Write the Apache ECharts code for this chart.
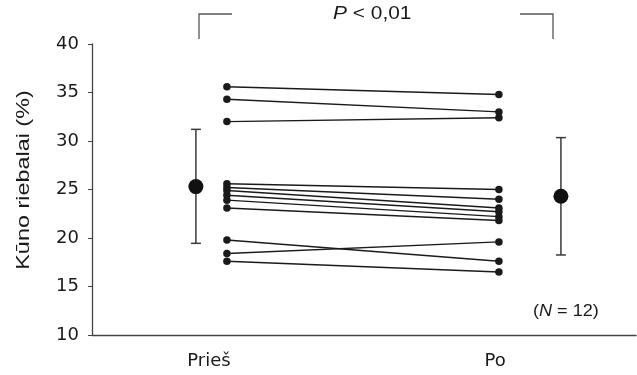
<!DOCTYPE html>
<html>
<head>
<meta charset="utf-8">
<script src="https://cdn.jsdelivr.net/npm/echarts@6/dist/echarts.min.js"></script>
<style>
  html, body { margin: 0; padding: 0; background: #fff; }
  #chart { width: 637px; height: 375px; }
</style>
</head>
<body>
<div id="chart"></div>
<script>
// x positions on a 0..10 value axis
var phaseLabels = ['Prieš', 'Po'];
var labelPos = [2.15, 7.41];
var pointPos = [2.48, 7.48];
var meanPos = [1.91, 8.62];

// individual subjects (%), before -> after
var before = [35.6, 34.3, 32.0, 25.6, 25.2, 24.9, 24.4, 23.9, 23.1, 19.8, 18.4, 17.6];
var after  = [34.8, 33.0, 32.4, 25.0, 24.0, 23.1, 22.7, 22.2, 21.8, 17.6, 19.6, 16.5];

// group mean and SD range
var means = [25.3, 24.3];
var sdLow = [19.45, 18.25];
var sdHigh = [31.2, 30.35];

var yTicks = [10, 15, 20, 25, 30, 35, 40];

var font = '"DejaVu Sans", "Liberation Sans", sans-serif';
var chart = echarts.init(document.getElementById('chart'));

var series = before.map(function (b, i) {
  return {
    type: 'line',
    data: [[pointPos[0], b], [pointPos[1], after[i]]],
    symbol: 'circle',
    symbolSize: 7.5,
    lineStyle: { color: '#1a1a1a', width: 1.4 },
    itemStyle: { color: '#1a1a1a', opacity: 1 },
    silent: true,
    z: 3
  };
});

series.push({
  type: 'custom',
  data: means.map(function (m, i) { return [meanPos[i], sdLow[i], sdHigh[i]]; }),
  renderItem: function (params, api) {
    var lo = api.coord([api.value(0), api.value(1)]);
    var hi = api.coord([api.value(0), api.value(2)]);
    var cap = 5;
    var st = { stroke: '#3a3a3a', lineWidth: 1.5 };
    return {
      type: 'group',
      children: [
        { type: 'line', shape: { x1: lo[0], y1: lo[1], x2: hi[0], y2: hi[1] }, style: st },
        { type: 'line', shape: { x1: lo[0] - cap, y1: lo[1], x2: lo[0] + cap, y2: lo[1] }, style: st },
        { type: 'line', shape: { x1: hi[0] - cap, y1: hi[1], x2: hi[0] + cap, y2: hi[1] }, style: st }
      ]
    };
  },
  z: 2
});

series.push({
  type: 'scatter',
  data: means.map(function (m, i) { return [meanPos[i], m]; }),
  symbol: 'circle',
  symbolSize: 15,
  itemStyle: { color: '#111', opacity: 1 },
  z: 4
});

var option = {
  animation: false,
  grid: { left: 92, right: 1, top: 44, bottom: 40, containLabel: false },
  xAxis: {
    type: 'value',
    min: 0,
    max: 10,
    splitLine: { show: false },
    axisLine: { lineStyle: { color: '#444', width: 1.3 } },
    axisTick: { show: false },
    axisLabel: {
      customValues: labelPos,
      formatter: function (v) {
        var i = labelPos.indexOf(v);
        return i >= 0 ? phaseLabels[i] : '';
      },
      color: '#1a1a1a',
      fontSize: 18,
      fontFamily: font,
      margin: 17
    }
  },
  yAxis: {
    type: 'value',
    min: yTicks[0],
    max: yTicks[yTicks.length - 1],
    interval: 5,
    splitLine: { show: false },
    axisLine: { show: true, lineStyle: { color: '#444', width: 1.3 } },
    axisTick: { show: true, length: 4, lineStyle: { color: '#444' } },
    axisLabel: {
      color: '#1a1a1a',
      fontSize: 18,
      fontFamily: font,
      margin: 13
    }
  },
  graphic: [
    {
      type: 'polyline',
      shape: { points: [[199, 39], [199, 14], [232, 14]] },
      style: { stroke: '#555', lineWidth: 1.3, fill: null }
    },
    {
      type: 'polyline',
      shape: { points: [[520, 14], [553, 14], [553, 39]] },
      style: { stroke: '#555', lineWidth: 1.3, fill: null }
    },
    {
      type: 'text',
      x: 24,
      y: 180,
      rotation: Math.PI / 2,
      scaleX: 1.3,
      style: {
        text: 'Kūno riebalai (%)',
        font: '18px "Liberation Sans", Arial, sans-serif',
        fill: '#1a1a1a',
        align: 'center',
        verticalAlign: 'middle'
      }
    },
    {
      type: 'text',
      x: 333,
      y: 4,
      scaleX: 1.1,
      style: {
        text: '{i|P} < 0,01',
        font: '19px "Liberation Sans", Arial, sans-serif',
        fill: '#1a1a1a',
        rich: { i: { fontStyle: 'italic', fontSize: 19, fontFamily: 'Liberation Sans' } }
      }
    },
    {
      type: 'text',
      x: 533,
      y: 304,
      scaleX: 1.13,
      style: {
        text: '({i|N} = 12)',
        font: '16px "Liberation Sans", Arial, sans-serif',
        fill: '#1a1a1a',
        rich: { i: { fontStyle: 'italic', fontSize: 16, fontFamily: 'Liberation Sans' } }
      }
    }
  ],
  series: series
};

chart.setOption(option);
</script>
</body>
</html>
